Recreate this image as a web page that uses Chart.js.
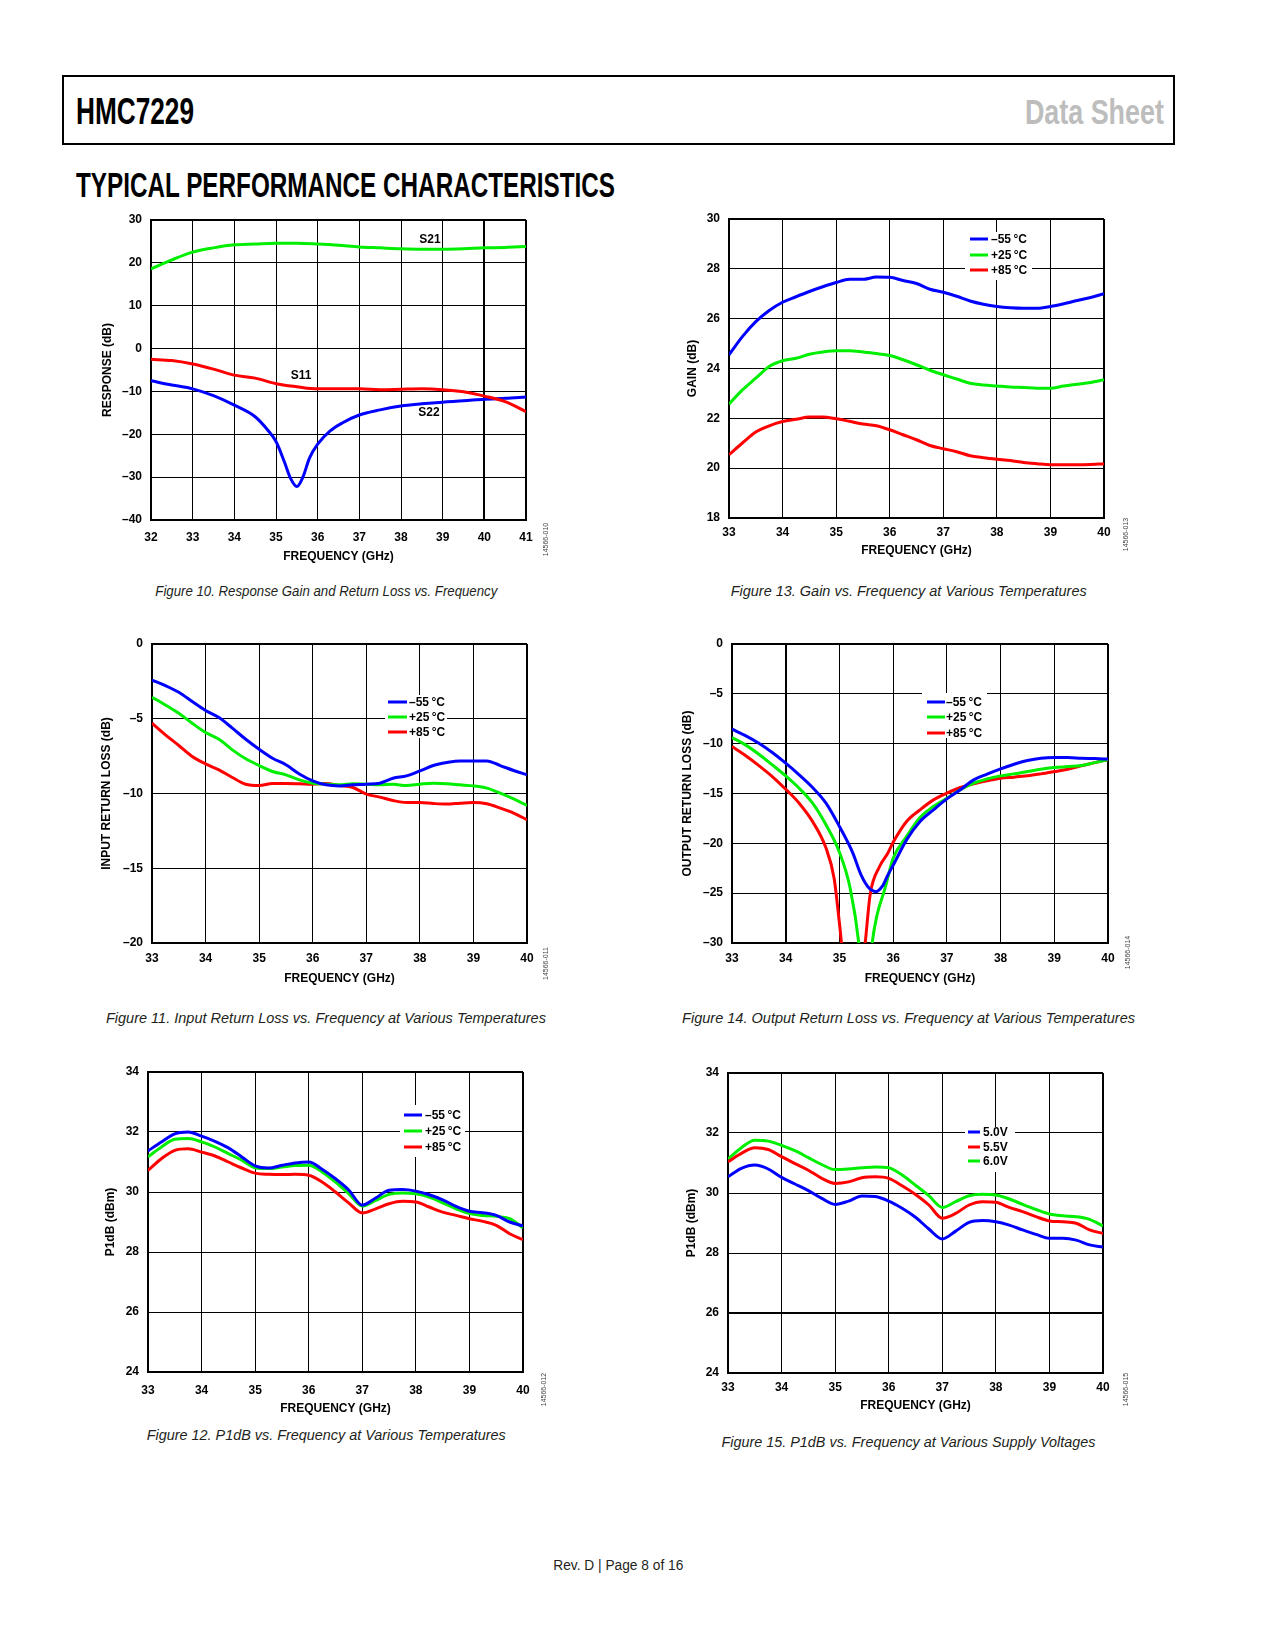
<!DOCTYPE html>
<html><head><meta charset="utf-8">
<script src="https://cdn.jsdelivr.net/npm/chart.js@4.4.1/dist/chart.umd.min.js"></script>
<style>
html,body{margin:0;padding:0;background:#fff;}
#page{position:relative;width:1275px;height:1650px;overflow:hidden;font-family:"Liberation Sans",Arial,Helvetica,sans-serif;color:#000;}
.abs{position:absolute;white-space:nowrap;line-height:1;}
.fit{display:inline-block;white-space:nowrap;}
canvas{position:absolute;}
.cap{font-style:italic;font-size:15.5px;color:#231f20;text-align:center;width:700px;}
.code{font-size:7px;color:#444;width:60px;text-align:center;transform:rotate(-90deg);}
</style>
</head>
<body>
<div id="page">
  <div class="abs" style="left:62px;top:74.5px;width:1113px;height:70px;border:2px solid #000;box-sizing:border-box;"></div>
  <div class="abs" style="left:76px;top:93.5px;font-weight:bold;font-size:36px;"><span class="fit" data-w="118" data-o="left">HMC7229</span></div>
  <div class="abs" style="right:111px;top:93.7px;font-weight:bold;font-size:35px;color:#bdbdbd;text-align:right;"><span class="fit" data-w="139" data-o="right">Data Sheet</span></div>
  <div class="abs" style="left:76px;top:167px;font-weight:bold;font-size:35px;"><span class="fit" data-w="539" data-o="left">TYPICAL PERFORMANCE CHARACTERISTICS</span></div>

  <canvas id="c1"></canvas>
  <canvas id="c2"></canvas>
  <canvas id="c3"></canvas>
  <canvas id="c4"></canvas>
  <canvas id="c5"></canvas>
  <canvas id="c6"></canvas>

  <div class="abs cap" style="left:-24px;top:583px;"><span class="fit" data-w="342">Figure 10. Response Gain and Return Loss vs. Frequency</span></div>
  <div class="abs cap" style="left:559px;top:583px;"><span class="fit" data-w="356">Figure 13. Gain vs. Frequency at Various Temperatures</span></div>
  <div class="abs cap" style="left:-24px;top:1010px;"><span class="fit" data-w="440">Figure 11. Input Return Loss vs. Frequency at Various Temperatures</span></div>
  <div class="abs cap" style="left:559px;top:1010px;"><span class="fit" data-w="453">Figure 14. Output Return Loss vs. Frequency at Various Temperatures</span></div>
  <div class="abs cap" style="left:-24px;top:1427px;"><span class="fit" data-w="359">Figure 12. P1dB vs. Frequency at Various Temperatures</span></div>
  <div class="abs cap" style="left:558px;top:1434px;"><span class="fit" data-w="374">Figure 15. P1dB vs. Frequency at Various Supply Voltages</span></div>

  <div class="abs code" style="left:515px;top:536px;">14566-010</div>
  <div class="abs code" style="left:1095px;top:531px;">14566-013</div>
  <div class="abs code" style="left:515px;top:960px;">14566-011</div>
  <div class="abs code" style="left:1097px;top:949px;">14566-014</div>
  <div class="abs code" style="left:513px;top:1386px;">14566-012</div>
  <div class="abs code" style="left:1095px;top:1386px;">14566-015</div>

  <div class="abs" style="left:268px;top:1558px;width:700px;text-align:center;font-size:14px;color:#231f20;"><span class="fit" data-w="130">Rev. D | Page 8 of 16</span></div>
</div>

<script>
// ---------------- DATA ----------------
// Figure 10: Response gain and return loss (dB) vs frequency (GHz)
const fig10Freq = [32,32.5,33,33.5,34,34.5,35,35.5,36,36.5,37,37.5,38,38.5,39,39.5,40,40.5,41];
const fig10S21  = [18.6,20.7,22.5,23.5,24.2,24.4,24.6,24.6,24.4,24.1,23.7,23.5,23.3,23.2,23.2,23.3,23.5,23.6,23.8];
const fig10S11  = [-2.5,-2.8,-3.6,-4.8,-6.2,-6.9,-8.2,-8.9,-9.4,-9.4,-9.4,-9.6,-9.5,-9.4,-9.6,-10.1,-11.1,-12.4,-14.7];
const fig10S22Freq = [32,32.5,33,33.5,34,34.5,34.8,35,35.2,35.35,35.5,35.65,35.8,36,36.3,36.6,37,37.5,38,38.5,39,39.5,40,40.5,41];
const fig10S22  = [-7.5,-8.5,-9.4,-11.0,-13.2,-15.9,-19.0,-21.7,-26.4,-30.3,-32.2,-29.9,-25.6,-22.3,-19.2,-17.3,-15.5,-14.3,-13.4,-12.9,-12.5,-12.2,-11.8,-11.6,-11.3];

// Common frequency grid for temperature / voltage sweeps
const sweepFreq = [33,33.25,33.5,33.75,34,34.25,34.5,34.75,35,35.25,35.5,35.75,36,36.25,36.5,36.75,37,37.25,37.5,37.75,38,38.25,38.5,38.75,39,39.25,39.5,39.75,40];

// Figure 13: Gain (dB)
const fig13M55 = [24.55,25.28,25.88,26.33,26.66,26.88,27.09,27.28,27.45,27.58,27.58,27.67,27.66,27.53,27.41,27.18,27.06,26.9,26.71,26.58,26.49,26.44,26.42,26.42,26.49,26.6,26.73,26.85,27.0];
const fig13P25 = [22.57,23.14,23.61,24.08,24.31,24.41,24.57,24.66,24.71,24.71,24.66,24.6,24.52,24.35,24.15,23.93,23.75,23.58,23.41,23.34,23.30,23.26,23.24,23.21,23.21,23.3,23.37,23.44,23.55];
const fig13P85 = [20.54,21.01,21.45,21.70,21.87,21.96,22.05,22.05,21.98,21.88,21.77,21.7,21.54,21.34,21.14,20.91,20.78,20.66,20.50,20.42,20.36,20.31,20.23,20.18,20.14,20.14,20.14,20.15,20.17];

// Figure 11: Input return loss (dB)
const fig11M55 = [-2.41,-2.78,-3.23,-3.85,-4.45,-4.92,-5.63,-6.37,-7.04,-7.64,-8.08,-8.69,-9.15,-9.42,-9.49,-9.42,-9.38,-9.31,-8.98,-8.82,-8.49,-8.13,-7.93,-7.82,-7.82,-7.82,-8.13,-8.46,-8.75];
const fig11P25 = [-3.56,-4.08,-4.63,-5.30,-5.92,-6.37,-7.08,-7.68,-8.13,-8.53,-8.75,-9.09,-9.31,-9.38,-9.42,-9.35,-9.38,-9.42,-9.38,-9.47,-9.38,-9.31,-9.35,-9.42,-9.49,-9.64,-9.98,-10.36,-10.80];
const fig11P85 = [-5.30,-6.08,-6.79,-7.53,-8.02,-8.42,-8.93,-9.38,-9.47,-9.33,-9.33,-9.35,-9.38,-9.33,-9.47,-9.60,-10.04,-10.24,-10.47,-10.60,-10.60,-10.67,-10.71,-10.65,-10.60,-10.69,-10.98,-11.31,-11.76];

// Figure 14: Output return loss (dB)
const fig14M55Freq = [33,33.25,33.5,33.75,34,34.25,34.5,34.75,35,35.25,35.4,35.55,35.68,35.8,35.9,36,36.25,36.5,36.75,37,37.25,37.5,37.75,38,38.25,38.5,38.75,39,39.25,39.5,39.75,40];
const fig14M55 = [-8.55,-9.19,-9.96,-10.89,-11.96,-13.13,-14.40,-15.97,-18.31,-20.98,-23.15,-24.49,-24.85,-24.3,-23.2,-22.2,-19.65,-17.81,-16.64,-15.54,-14.63,-13.63,-13.06,-12.53,-12.06,-11.69,-11.46,-11.39,-11.39,-11.46,-11.5,-11.55];
const fig14P25Freq = [33,33.25,33.5,33.75,34,34.25,34.5,34.75,35,35.2,35.36,35.48,35.61,35.7,35.85,36,36.25,36.5,36.75,37,37.25,37.5,37.75,38,38.25,38.5,38.75,39,39.25,39.5,39.75,40];
const fig14P25 = [-9.39,-10.12,-11.06,-12.13,-13.23,-14.47,-15.97,-18.14,-20.9,-24.5,-30,-38,-30,-27.2,-24.5,-21.5,-19.31,-17.41,-16.30,-15.47,-14.63,-13.97,-13.53,-13.23,-13.03,-12.80,-12.56,-12.40,-12.30,-12.20,-11.9,-11.6];
const fig14P85Freq = [33,33.25,33.5,33.75,34,34.25,34.5,34.75,34.9,35,35.25,35.48,35.57,35.75,35.9,36,36.25,36.5,36.75,37,37.25,37.5,37.75,38,38.25,38.5,38.75,39,39.25,39.5,39.75,40];
const fig14P85 = [-10.29,-11.19,-12.20,-13.30,-14.57,-15.97,-17.81,-20.48,-23.49,-28.0,-40,-30,-25.2,-22.3,-21.0,-19.9,-17.81,-16.64,-15.64,-14.97,-14.40,-14.03,-13.73,-13.46,-13.36,-13.23,-13.03,-12.80,-12.56,-12.23,-11.9,-11.6];

// Figure 12: P1dB (dBm) vs temperature
const fig12M55 = [31.37,31.67,31.94,32.0,31.86,31.69,31.47,31.17,30.87,30.80,30.89,30.97,31.0,30.76,30.44,30.06,29.56,29.80,30.06,30.08,30.03,29.91,29.74,29.52,29.36,29.31,29.22,29.0,28.87];
const fig12P25 = [31.17,31.50,31.76,31.78,31.67,31.50,31.28,31.06,30.81,30.78,30.83,30.88,30.89,30.67,30.33,29.94,29.53,29.72,29.92,29.97,29.94,29.83,29.64,29.44,29.28,29.22,29.19,29.11,28.81];
const fig12P85 = [30.72,31.11,31.39,31.44,31.33,31.2,31.0,30.8,30.63,30.59,30.58,30.59,30.56,30.33,30.0,29.63,29.30,29.44,29.61,29.69,29.67,29.5,29.33,29.22,29.11,29.02,28.89,28.61,28.41];

// Figure 15: P1dB (dBm) vs supply voltage
const fig15V50 = [30.54,30.82,30.93,30.80,30.52,30.30,30.08,29.82,29.62,29.73,29.90,29.88,29.73,29.49,29.19,28.80,28.47,28.73,29.02,29.08,29.04,28.93,28.77,28.62,28.49,28.49,28.43,28.27,28.2];
const fig15V55 = [31.04,31.32,31.51,31.45,31.21,30.98,30.76,30.49,30.32,30.37,30.51,30.54,30.49,30.24,29.95,29.60,29.16,29.32,29.60,29.71,29.69,29.52,29.38,29.21,29.07,29.04,28.99,28.77,28.65];
const fig15V60 = [31.13,31.51,31.76,31.73,31.59,31.41,31.18,30.95,30.78,30.80,30.84,30.87,30.84,30.60,30.26,29.91,29.52,29.71,29.91,29.96,29.93,29.80,29.62,29.45,29.30,29.24,29.21,29.12,28.9];

const tempLabels = ['\u201355\u2009\u00b0C', '+25\u2009\u00b0C', '+85\u2009\u00b0C'];
const voltLabels = ['5.0V', '5.5V', '6.0V'];
const sLabels = ['S21', 'S11', 'S22'];

// ---------------- RENDERING ----------------
const BLUE = '#0000ff', GREEN = '#00ee00', RED = '#ff0000';
const FONT = '"Liberation Sans", Arial, Helvetica, sans-serif';
const tickFont = {family: FONT, size: 12, weight: 'bold'};

function dash(v) { return v < 0 ? '\u2013' + Math.abs(v) : String(v); }
function pts(xs, ys) { return xs.map((x, i) => ({x: x, y: ys[i]})); }
function series(label, color, xs, ys) {
  return {label: label, data: pts(xs, ys), borderColor: color, backgroundColor: color,
    borderWidth: 3, pointRadius: 0, fill: false, cubicInterpolationMode: 'monotone'};
}

const refOverlay = {
  id: 'refOverlay',
  beforeDatasetsDraw(chart, args, o) {
    const a = chart.chartArea, ctx = chart.ctx;
    ctx.save();
    if (o.box) {
      ctx.fillStyle = '#fff';
      ctx.fillRect(a.left + o.box[0], a.top + o.box[1], o.box[2] - o.box[0], o.box[3] - o.box[1]);
    }
    ctx.font = 'bold 12px ' + FONT;
    ctx.textBaseline = 'middle';
    if (o.rows) {
      ctx.textAlign = 'left';
      chart.data.datasets.forEach((ds, i) => {
        const y = a.top + o.rows[i];
        ctx.strokeStyle = ds.borderColor; ctx.lineWidth = 3;
        ctx.beginPath(); ctx.moveTo(a.left + o.line[0], y); ctx.lineTo(a.left + o.line[1], y); ctx.stroke();
        ctx.fillStyle = '#000';
        ctx.fillText(ds.label, a.left + o.text, y + 0.5);
      });
    }
    if (o.labels) {
      ctx.textAlign = 'center'; ctx.fillStyle = '#000';
      chart.data.datasets.forEach((ds, i) => {
        const p = o.labels[i];
        ctx.fillText(ds.label, a.left + p[0], a.top + p[1]);
      });
    }
    ctx.restore();
  }
};

function makeChart(id, c) {
  const PT = 20, PR = 30;
  const cv = document.getElementById(id);
  const cw = c.W + c.w + PR, ch = PT + c.h + c.H;
  cv.width = cw; cv.height = ch;
  cv.style.left = (c.l - c.W) + 'px'; cv.style.top = (c.t - PT) + 'px';
  cv.style.width = cw + 'px'; cv.style.height = ch + 'px';
  const gw = (min, max, thick) => (ctx) => {
    const v = ctx.tick ? ctx.tick.value : null;
    return (v === min || v === max || thick.indexOf(v) >= 0) ? 2 : 1;
  };
  new Chart(cv, {
    type: 'line',
    data: {datasets: c.datasets},
    options: {
      responsive: false, animation: false, events: [],
      layout: {padding: {top: PT, right: PR, left: 0, bottom: 0}},
      plugins: {legend: {display: false}, tooltip: {enabled: false}, refOverlay: c.overlay || {}},
      scales: {
        x: {type: 'linear', min: c.xMin, max: c.xMax,
          ticks: {stepSize: 1, autoSkip: false, maxRotation: 0, padding: c.xPad, color: '#000', font: tickFont},
          grid: {color: '#000', lineWidth: gw(c.xMin, c.xMax, c.thickX || []), drawTicks: false},
          border: {display: true, color: '#000', width: 2},
          title: {display: true, text: 'FREQUENCY (GHz)', color: '#000', font: tickFont, padding: 0},
          afterFit: (s) => { s.height = c.H; }},
        y: {type: 'linear', min: c.yMin, max: c.yMax,
          ticks: {stepSize: c.yStep, padding: 9, color: '#000', font: tickFont, callback: (v) => dash(v)},
          grid: {color: '#000', lineWidth: gw(c.yMin, c.yMax, c.thickY || []), drawTicks: false},
          border: {display: true, color: '#000', width: 2},
          title: {display: true, text: c.yTitle, color: '#000', font: tickFont, padding: 0},
          afterFit: (s) => { s.width = c.W; }}
      }
    },
    plugins: [refOverlay]
  });
}

makeChart('c1', {l: 151, t: 220, w: 375, h: 300, W: 51, H: 44, xPad: 10,
  xMin: 32, xMax: 41, yMin: -40, yMax: 30, yStep: 10, yTitle: 'RESPONSE (dB)', thickX: [40],
  datasets: [series(sLabels[0], GREEN, fig10Freq, fig10S21), series(sLabels[1], RED, fig10Freq, fig10S11),
             series(sLabels[2], BLUE, fig10S22Freq, fig10S22)],
  overlay: {labels: [[279, 20], [150, 156], [278, 193]]}});

makeChart('c2', {l: 729, t: 219, w: 375, h: 299, W: 44, H: 40, xPad: 7,
  xMin: 33, xMax: 40, yMin: 18, yMax: 30, yStep: 2, yTitle: 'GAIN (dB)',
  datasets: [series(tempLabels[0], BLUE, sweepFreq, fig13M55), series(tempLabels[1], GREEN, sweepFreq, fig13P25),
             series(tempLabels[2], RED, sweepFreq, fig13P85)],
  overlay: {box: [236, 13, 303, 61], line: [241, 259], text: 262, rows: [20, 36, 51]}});

makeChart('c3', {l: 152, t: 644, w: 375, h: 299, W: 53, H: 43, xPad: 8,
  xMin: 33, xMax: 40, yMin: -20, yMax: 0, yStep: 5, yTitle: 'INPUT RETURN LOSS (dB)',
  datasets: [series(tempLabels[0], BLUE, sweepFreq, fig11M55), series(tempLabels[1], GREEN, sweepFreq, fig11P25),
             series(tempLabels[2], RED, sweepFreq, fig11P85)],
  overlay: {box: [233, 51, 295, 94], line: [236, 255], text: 257, rows: [58, 73, 88]}});

makeChart('c4', {l: 732, t: 644, w: 376, h: 299, W: 52, H: 43, xPad: 8,
  xMin: 33, xMax: 40, yMin: -30, yMax: 0, yStep: 5, yTitle: 'OUTPUT RETURN LOSS (dB)', thickX: [34],
  datasets: [series(tempLabels[0], BLUE, fig14M55Freq, fig14M55), series(tempLabels[1], GREEN, fig14P25Freq, fig14P25),
             series(tempLabels[2], RED, fig14P85Freq, fig14P85)],
  overlay: {box: [190, 49, 255, 94], line: [195, 213], text: 214, rows: [58, 73, 89]}});

makeChart('c5', {l: 148, t: 1072, w: 375, h: 300, W: 45, H: 44, xPad: 11,
  xMin: 33, xMax: 40, yMin: 24, yMax: 34, yStep: 2, yTitle: 'P1dB (dBm)',
  datasets: [series(tempLabels[0], BLUE, sweepFreq, fig12M55), series(tempLabels[1], GREEN, sweepFreq, fig12P25),
             series(tempLabels[2], RED, sweepFreq, fig12P85)],
  overlay: {box: [252, 33, 317, 85], line: [256, 274], text: 277, rows: [43, 59, 75]}});

makeChart('c6', {l: 728, t: 1073, w: 375, h: 300, W: 44, H: 40, xPad: 7,
  xMin: 33, xMax: 40, yMin: 24, yMax: 34, yStep: 2, yTitle: 'P1dB (dBm)', thickY: [26],
  datasets: [series(voltLabels[0], BLUE, sweepFreq, fig15V50), series(voltLabels[1], RED, sweepFreq, fig15V55),
             series(voltLabels[2], GREEN, sweepFreq, fig15V60)],
  overlay: {box: [237, 54, 287, 99], line: [240, 252], text: 255, rows: [59, 74, 88]}});

// squeeze page texts to the reference widths
document.querySelectorAll('.fit').forEach(el => {
  const target = +el.dataset.w;
  const nat = el.getBoundingClientRect().width;
  el.style.transformOrigin = el.dataset.o || 'center';
  if (nat > 0) el.style.transform = 'scaleX(' + (target / nat) + ')';
});
</script>
</body></html>
